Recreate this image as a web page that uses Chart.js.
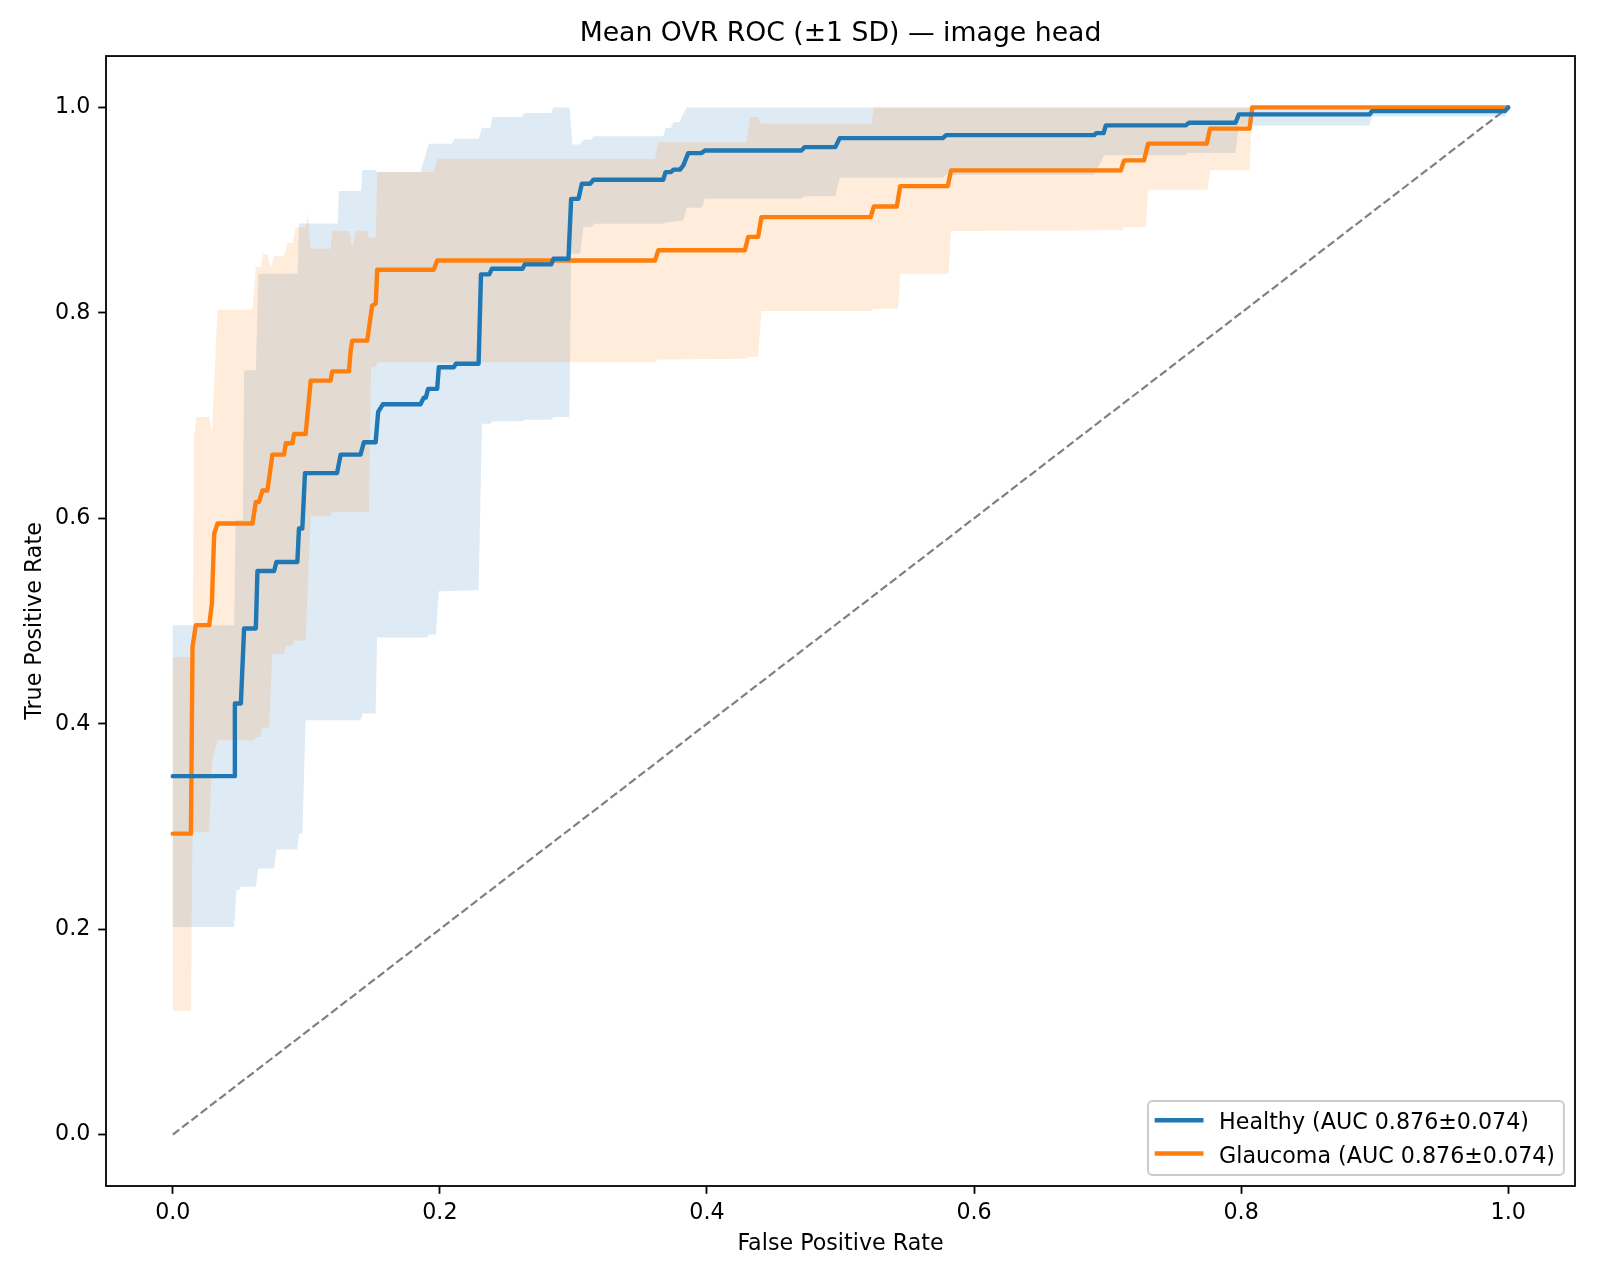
<!DOCTYPE html>
<html>
<head>
<meta charset="utf-8">
<title>Mean OVR ROC</title>
<script src="https://cdn.jsdelivr.net/npm/chart.js@4.4.1/dist/chart.umd.min.js"></script>
<style>
  html, body { margin: 0; padding: 0; background: #fff; }
  #wrap { width: 1600px; height: 1280px; }
</style>
</head>
<body>
<div id="wrap"><canvas id="roc" width="1600" height="1280"></canvas></div>
<script>
// values as [fpr, tpr]
const healthyMean = [
  [0, 0.349], [0.046, 0.349], [0.0465, 0.4197], [0.051, 0.4197], [0.0534, 0.4927], [0.0622, 0.4927],
  [0.0634, 0.5487], [0.0759, 0.5487], [0.0776, 0.5575], [0.0933, 0.5575], [0.0945, 0.59], [0.097, 0.59],
  [0.099, 0.644], [0.123, 0.644], [0.1257, 0.662], [0.1406, 0.662], [0.1431, 0.674], [0.1519, 0.674],
  [0.1538, 0.7035], [0.1573, 0.711], [0.1855, 0.711], [0.188, 0.7175], [0.1895, 0.7175], [0.1912, 0.726],
  [0.198, 0.726], [0.1992, 0.747], [0.2104, 0.747], [0.2121, 0.7505], [0.229, 0.7505], [0.2308, 0.8375],
  [0.237, 0.8375], [0.239, 0.843], [0.262, 0.843], [0.2635, 0.8472], [0.2834, 0.8472], [0.2851, 0.8527],
  [0.2963, 0.8527], [0.2983, 0.911], [0.3038, 0.911], [0.3063, 0.9257], [0.3125, 0.9257], [0.315, 0.9296],
  [0.3673, 0.9296], [0.369, 0.937], [0.3731, 0.937], [0.3748, 0.9394], [0.3798, 0.9394], [0.3823, 0.9435],
  [0.386, 0.9555], [0.396, 0.9555], [0.3985, 0.958], [0.4707, 0.958], [0.4732, 0.9613], [0.4961, 0.9613],
  [0.4994, 0.9701], [0.5766, 0.9701], [0.5791, 0.973], [0.69, 0.973], [0.6915, 0.975], [0.697, 0.975],
  [0.6987, 0.9825], [0.7585, 0.9825], [0.761, 0.985], [0.7958, 0.985], [0.7983, 0.9932], [0.8962, 0.9932],
  [0.898, 0.9964], [0.9976, 0.9964], [1, 1]
];
const healthyUpper = [
  [0, 0.496], [0.046, 0.496], [0.047, 0.5987], [0.0525, 0.5987], [0.0534, 0.744], [0.0622, 0.744],
  [0.0641, 0.838], [0.0935, 0.838], [0.0945, 0.887], [0.1235, 0.887], [0.1244, 0.9186], [0.141, 0.9186],
  [0.1419, 0.939], [0.1519, 0.939], [0.153, 0.937], [0.1855, 0.937], [0.1917, 0.9647], [0.209, 0.9647],
  [0.211, 0.9695], [0.229, 0.9695], [0.2315, 0.98], [0.2378, 0.98], [0.2395, 0.9906], [0.2614, 0.9906],
  [0.2635, 0.9945], [0.2834, 0.9945], [0.2851, 1], [0.2971, 1], [0.2993, 0.964], [0.305, 0.964],
  [0.3075, 0.9685], [0.3133, 0.9685], [0.315, 0.9718], [0.3673, 0.9718], [0.369, 0.98], [0.3731, 0.98],
  [0.3748, 0.9857], [0.3798, 0.9857], [0.381, 0.9906], [0.3848, 1], [1, 1]
];
const healthyLower = [
  [0, 0.2022], [0.046, 0.2022], [0.0477, 0.238], [0.0495, 0.238], [0.051, 0.2412], [0.0622, 0.2412],
  [0.0639, 0.259], [0.0759, 0.259], [0.0776, 0.2776], [0.0933, 0.2776], [0.0945, 0.293], [0.097, 0.293],
  [0.0995, 0.4034], [0.1406, 0.4034], [0.142, 0.41], [0.1519, 0.41], [0.153, 0.4839], [0.1905, 0.4839],
  [0.192, 0.4868], [0.197, 0.4868], [0.1992, 0.529], [0.229, 0.53], [0.2315, 0.692], [0.2378, 0.692],
  [0.2395, 0.6944], [0.2614, 0.6944], [0.2635, 0.696], [0.2834, 0.696], [0.2851, 0.6986], [0.297, 0.6986],
  [0.2983, 0.8576], [0.305, 0.8576], [0.3075, 0.8835], [0.3133, 0.8835], [0.3158, 0.8868], [0.3673, 0.8868],
  [0.369, 0.888], [0.3823, 0.89], [0.3848, 0.9024], [0.396, 0.9024], [0.3985, 0.911], [0.4707, 0.911],
  [0.4732, 0.9134], [0.4961, 0.9134], [0.4994, 0.9316], [0.5766, 0.9316], [0.5791, 0.9345], [0.69, 0.9345],
  [0.6975, 0.9533], [0.7585, 0.9533], [0.7597, 0.9555], [0.7958, 0.9555], [0.7983, 0.9825], [0.8962, 0.9825],
  [0.898, 0.9912], [0.9976, 0.9912], [1, 1]
];

const glaucomaMean = [
  [0, 0.293], [0.0136, 0.293], [0.0148, 0.475], [0.0173, 0.496], [0.0273, 0.496], [0.0293, 0.517],
  [0.031, 0.585], [0.0335, 0.595], [0.0597, 0.595], [0.0622, 0.616], [0.0646, 0.616], [0.0671, 0.627],
  [0.0709, 0.627], [0.0746, 0.662], [0.0833, 0.662], [0.0846, 0.673], [0.0896, 0.673], [0.0908, 0.682],
  [0.0995, 0.682], [0.1033, 0.734], [0.1182, 0.734], [0.1194, 0.743], [0.1319, 0.743], [0.1332, 0.763],
  [0.1344, 0.773], [0.1456, 0.773], [0.1493, 0.807], [0.152, 0.809], [0.1531, 0.842], [0.1954, 0.842],
  [0.198, 0.851], [0.3611, 0.851], [0.3636, 0.861], [0.4284, 0.861], [0.4309, 0.874], [0.4383, 0.874],
  [0.4408, 0.8932], [0.5226, 0.8932], [0.525, 0.9036], [0.5422, 0.9036], [0.5447, 0.9234], [0.5803, 0.9234],
  [0.5828, 0.9387], [0.7099, 0.9387], [0.7124, 0.9484], [0.7273, 0.9484], [0.7303, 0.9647], [0.7742, 0.9647],
  [0.7767, 0.9793], [0.8063, 0.9793], [0.8083, 1], [1, 1]
];
const glaucomaUpper = [
  [0, 0.465], [0.0136, 0.465], [0.0148, 0.465], [0.016, 0.679], [0.0178, 0.6986], [0.0273, 0.6986],
  [0.0293, 0.682], [0.0335, 0.803], [0.0597, 0.803], [0.0622, 0.8446], [0.0659, 0.8446], [0.0676, 0.857],
  [0.0709, 0.857], [0.0734, 0.843], [0.0759, 0.855], [0.0833, 0.855], [0.0858, 0.868], [0.0896, 0.868],
  [0.092, 0.883], [0.0995, 0.883], [0.101, 0.8966], [0.1033, 0.8625], [0.1182, 0.8625], [0.1194, 0.8796],
  [0.1319, 0.8796], [0.1344, 0.864], [0.1369, 0.8796], [0.1456, 0.8796], [0.1469, 0.873], [0.1519, 0.873],
  [0.1531, 0.937], [0.1954, 0.937], [0.198, 0.95], [0.3611, 0.95], [0.3636, 0.966], [0.4296, 0.966],
  [0.4321, 0.9906], [0.4383, 0.9906], [0.4408, 0.984], [0.523, 0.984], [0.525, 1], [1, 1]
];
const glaucomaLower = [
  [0, 0.1205], [0.0136, 0.1205], [0.0148, 0.2947], [0.0273, 0.2947], [0.0293, 0.361], [0.0335, 0.384],
  [0.0609, 0.384], [0.0622, 0.387], [0.0659, 0.387], [0.0671, 0.396], [0.0721, 0.396], [0.0746, 0.468],
  [0.0833, 0.468], [0.0846, 0.476], [0.0896, 0.476], [0.0908, 0.481], [0.0995, 0.481], [0.1033, 0.602],
  [0.1182, 0.602], [0.1194, 0.606], [0.1469, 0.606], [0.1485, 0.747], [0.1519, 0.747], [0.1531, 0.752],
  [0.3611, 0.752], [0.3636, 0.7545], [0.4284, 0.7554], [0.4309, 0.757], [0.4383, 0.757], [0.4408, 0.8018],
  [0.523, 0.8018], [0.525, 0.804], [0.543, 0.804], [0.5447, 0.838], [0.5809, 0.838], [0.5828, 0.8796],
  [0.7111, 0.8803], [0.7124, 0.8835], [0.7286, 0.8835], [0.7303, 0.9199], [0.7747, 0.9199], [0.7767, 0.9387],
  [0.8063, 0.9387], [0.8083, 1], [1, 1]
];

const chanceLine = [[0, 0], [1, 1]];

const xTicks = [0, 0.2, 0.4, 0.6, 0.8, 1.0];
const xTickLabels = ['0.0', '0.2', '0.4', '0.6', '0.8', '1.0'];
const yTicks = [0, 0.2, 0.4, 0.6, 0.8, 1.0];
const yTickLabels = ['0.0', '0.2', '0.4', '0.6', '0.8', '1.0'];

const titleText = 'Mean OVR ROC (±1 SD) — image head';
const xTitle = 'False Positive Rate';
const yTitle = 'True Positive Rate';
const legendLabels = ['Healthy (AUC 0.876±0.074)', 'Glaucoma (AUC 0.876±0.074)'];

const BLUE = '#1f77b4';
const ORANGE = '#ff7f0e';
const FONT = 'DejaVu Sans';
const FS = 22.2; // 10pt at 160 dpi

const toPts = arr => arr.map(([x, y]) => ({x, y}));
// band as one closed shape: upper edge left->right, lower edge right->left
const band = (up, lo) => toPts(up.concat(lo.slice().reverse()));

Chart.defaults.font.family = FONT;
Chart.defaults.color = '#000';

// centre the title over the axes, not over the whole canvas
const titleOverAxes = {
    id: 'titleOverAxes',
    afterLayout(chart) {
        const t = chart.titleBlock;
        if (t) {
            t.left = chart.chartArea.left;
            t.right = chart.chartArea.right;
            t.width = t.right - t.left;
        }
    }
};

// matplotlib-like box round the axes
const frame = {
    id: 'frame',
    afterDatasetsDraw(chart) {
        const {ctx, chartArea: a} = chart;
        ctx.save();
        ctx.strokeStyle = '#000';
        ctx.lineWidth = 1.8;
        ctx.strokeRect(a.left, a.top, a.right - a.left, a.bottom - a.top);
        ctx.restore();
    }
};

// legend in the lower right corner, inside the axes
const cornerLegend = {
    id: 'cornerLegend',
    afterDraw(chart) {
        const {ctx, chartArea: a} = chart;
        const colors = [BLUE, ORANGE];
        ctx.save();
        ctx.font = FS + 'px "' + FONT + '"';
        const textW = Math.max(...legendLabels.map(t => ctx.measureText(t).width));
        const pad = 0.4 * FS, handle = 2 * FS, gap = 0.8 * FS;
        const w = pad + handle + gap + textW + pad;
        const h = 74;
        const right = a.right - 0.5 * FS;
        const bottom = a.bottom - 0.5 * FS;
        const left = right - w, top = bottom - h;

        ctx.beginPath();
        ctx.roundRect(left, top, w, h, 4.4);
        ctx.fillStyle = 'rgba(255,255,255,0.8)';
        ctx.fill();
        ctx.strokeStyle = '#cccccc';
        ctx.lineWidth = 2;
        ctx.stroke();

        legendLabels.forEach((label, i) => {
            const y = top + 19.3 + i * 33.3;
            ctx.beginPath();
            ctx.moveTo(left + pad, y);
            ctx.lineTo(left + pad + handle, y);
            ctx.strokeStyle = colors[i];
            ctx.lineWidth = 4.4;
            ctx.lineCap = 'square';
            ctx.stroke();
            ctx.fillStyle = '#000';
            ctx.textAlign = 'left';
            ctx.textBaseline = 'alphabetic';
            ctx.fillText(label, left + pad + handle + gap, y + 9);
        });
        ctx.restore();
    }
};

const lineStyle = {
    pointRadius: 0,
    borderWidth: 4.4,
    tension: 0,
    fill: false,
    borderJoinStyle: 'round',
    borderCapStyle: 'round'
};

new Chart(document.getElementById('roc'), {
    type: 'line',
    data: {
        datasets: [
            {data: toPts(healthyMean), borderColor: BLUE, order: 0, ...lineStyle},
            {data: toPts(glaucomaMean), borderColor: ORANGE, order: 0, ...lineStyle},
            {
                data: toPts(chanceLine),
                borderColor: 'gray',
                borderWidth: 2.2,
                borderDash: [8.2, 3.55],
                pointRadius: 0,
                fill: false,
                order: 1
            },
            {
                data: band(glaucomaUpper, glaucomaLower),
                borderWidth: 0,
                borderColor: 'rgba(0,0,0,0)',
                backgroundColor: 'rgba(255,127,14,0.15)',
                pointRadius: 0,
                tension: 0,
                fill: 'shape',
                order: 2
            },
            {
                data: band(healthyUpper, healthyLower),
                borderWidth: 0,
                borderColor: 'rgba(0,0,0,0)',
                backgroundColor: 'rgba(31,119,180,0.15)',
                pointRadius: 0,
                tension: 0,
                fill: 'shape',
                order: 3
            }
        ]
    },
    options: {
        responsive: false,
        animation: false,
        devicePixelRatio: 1,
        layout: {padding: {left: 0, right: 25, top: 0, bottom: 0}},
        plugins: {
            legend: {display: false},
            tooltip: {enabled: false},
            title: {
                display: true,
                text: titleText,
                color: '#000',
                font: {size: 26.7, weight: 'normal', family: FONT},
                padding: {top: 18.3, bottom: 5.7}
            }
        },
        scales: {
            x: {
                type: 'linear',
                min: -0.05,
                max: 1.05,
                afterBuildTicks: s => { s.ticks = xTicks.map(value => ({value})); },
                afterFit: s => { s.height = 94; },
                ticks: {
                    callback: (v, i) => xTickLabels[i],
                    font: {size: FS},
                    color: '#000',
                    padding: 6,
                    maxRotation: 0,
                    autoSkip: false
                },
                grid: {
                    drawOnChartArea: false,
                    drawTicks: true,
                    tickLength: 7.8,
                    tickWidth: 1.8,
                    tickColor: '#000'
                },
                border: {display: false},
                title: {
                    display: true,
                    text: xTitle,
                    color: '#000',
                    font: {size: FS},
                    padding: {top: 0, bottom: 22.7}
                }
            },
            y: {
                type: 'linear',
                min: -0.05,
                max: 1.05,
                afterBuildTicks: s => { s.ticks = yTicks.map(value => ({value})); },
                afterFit: s => { s.width = 106; },
                ticks: {
                    callback: (v, i) => yTickLabels[i],
                    font: {size: FS},
                    color: '#000',
                    padding: 7.8,
                    autoSkip: false
                },
                grid: {
                    drawOnChartArea: false,
                    drawTicks: true,
                    tickLength: 7.8,
                    tickWidth: 1.8,
                    tickColor: '#000'
                },
                border: {display: false},
                title: {
                    display: true,
                    text: yTitle,
                    color: '#000',
                    font: {size: FS},
                    padding: {top: 21.5, bottom: 0}
                }
            }
        }
    },
    plugins: [titleOverAxes, frame, cornerLegend]
});
</script>
</body>
</html>
